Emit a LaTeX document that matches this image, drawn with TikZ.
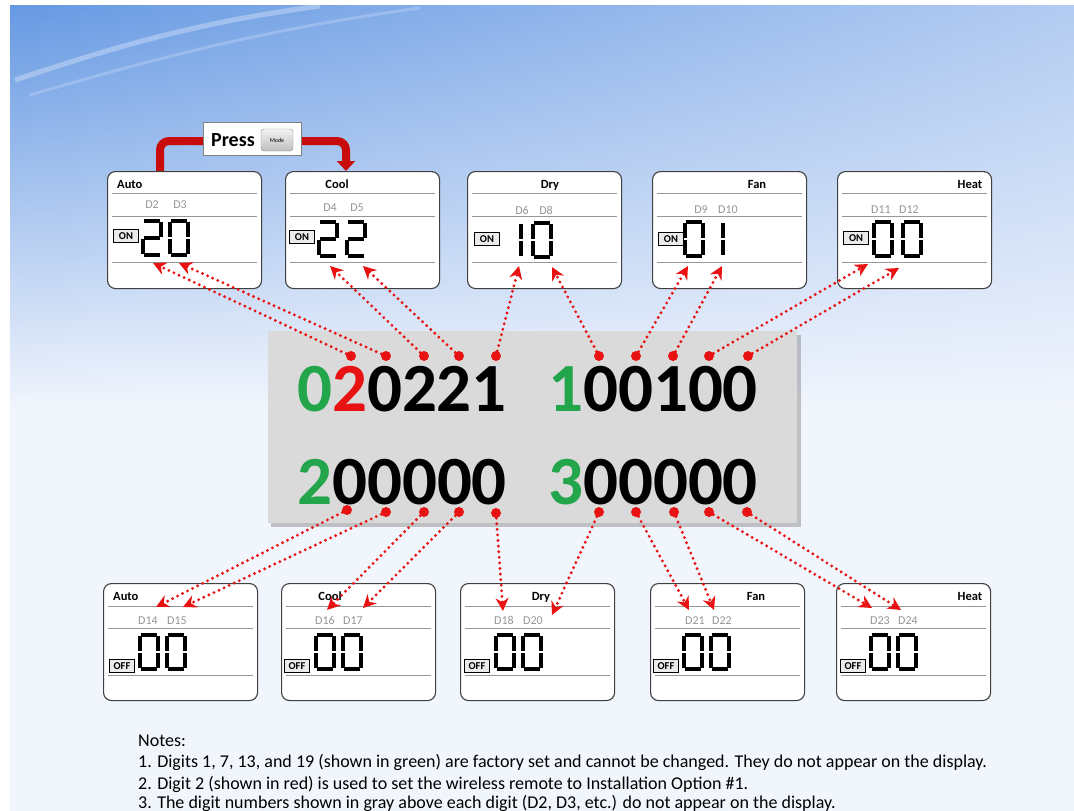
\documentclass[tikz,border=0pt]{standalone}
\usepackage{fontspec}
\setmainfont{Carlito}
\usetikzlibrary{arrows.meta}
\definecolor{dred}{RGB}{232,18,18}
\definecolor{dgreen}{RGB}{34,165,75}
\definecolor{arrowred}{RGB}{200,12,12}
\definecolor{panelline}{RGB}{150,150,150}
\definecolor{dlabel}{RGB}{150,150,150}
\definecolor{boxgray}{RGB}{218,218,218}
\pgfdeclarefunctionalshading{bgfun}{\pgfpoint{-50bp}{-50bp}}{\pgfpoint{50bp}{50bp}}{}{
  exch 50 div 0.5 add
  dup 0 lt {pop 0} if dup 1 gt {pop 1} if
  1 exch sub 0.55 mul 0.45 add
  exch 50 div 0.5 add
  0.5 sub 0.5 div dup 0 lt {pop 0} if dup 1 gt {pop 1} if
  mul
  dup 0.545 mul 0.945 exch sub
  exch dup 0.36 mul 0.96 exch sub
  exch 0.10 mul 0.99 exch sub
}
\newcommand\lcdseg[1]{\ifcase#1\relax\or
 \draw[lcd] (3.2,1.8)--(18.8,1.8);\or
 \draw[lcd] (20.2,3.4)--(20.2,17.6);\or
 \draw[lcd] (20.2,20.4)--(20.2,34.6);\or
 \draw[lcd] (3.2,36.2)--(18.8,36.2);\or
 \draw[lcd] (1.8,20.4)--(1.8,34.6);\or
 \draw[lcd] (1.8,3.4)--(1.8,17.6);\or
 \draw[lcd] (3.2,19)--(18.8,19);\fi}
\newcommand\lcddigit[3]{\begin{scope}[shift={(#1,#2)}]\foreach \s in {#3}{\lcdseg{\s}}\end{scope}}
\begin{document}
\begin{tikzpicture}[x=1pt,y=-1pt,
  panel/.style={draw=black!75, line width=1.1pt, fill=white, rounded corners=8pt, minimum width=154pt, minimum height=117pt, anchor=north west, inner sep=0pt},
  pline/.style={draw=panelline, line width=0.9pt},
  ttl/.style={font=\bfseries\fontsize{12.5}{13}\selectfont, inner sep=0pt, anchor=base},
  dlab/.style={text=dlabel, font=\fontsize{12}{13}\selectfont, inner sep=0pt, anchor=base},
  onbox/.style={draw=black, line width=0.8pt, fill=black!8, font=\bfseries\fontsize{10.5}{11}\selectfont, inner sep=0pt, minimum width=25pt, minimum height=13pt},
  lcd/.style={line width=3.6pt, line cap=butt, draw=black},
  rdot/.style={circle, fill=dred, minimum size=10pt, inner sep=0pt},
  dotarrow/.style={draw=dred, line width=3.2pt, dash pattern=on 0pt off 5.6pt, line cap=round, -{Stealth[length=13pt,width=13pt]}},
  big/.style={font=\bfseries\fontsize{69}{69}\selectfont, inner sep=0pt},
  note/.style={font=\fontsize{18}{20}\selectfont, anchor=base west, inner sep=0pt}
]
\useasboundingbox (0,0) rectangle (1074,811);
\fill[white] (0,0) rectangle (1074,811);
\shade[shading=bgfun] (10,5) rectangle (1074,811);
\draw[white, opacity=0.3, line width=5pt] (15,80) .. controls (120,45) and (200,22) .. (320,6);
\draw[white, opacity=0.2, line width=3pt] (30,95) .. controls (150,60) and (260,30) .. (420,8);

% press mode arrow
\coordinate (ps) at (160,172);
\coordinate (pm) at (346,141);
\coordinate (pe) at (346,171);
\draw[arrowred, line width=8pt, rounded corners=9pt, -{Triangle[length=10pt,width=18pt]}] (ps) |- (pm) -- (pe);
\node[draw=black!50, fill=white, line width=0.8pt, minimum width=98pt, minimum height=33pt, inner sep=0pt] (pbox) at (252,139) {};
\node[font=\bfseries\fontsize{20}{20}\selectfont, inner sep=0pt] (press) at (233,140) {Press};
\node[rounded corners=3pt, draw=black!45, top color=black!5, bottom color=black!25, minimum width=32pt, minimum height=22pt, inner sep=0pt, font=\fontsize{6}{6}\selectfont] (mode) at (277,140) {Mode};

% ---------- top panels ----------
\foreach \nm/\xx in {pA/107, pC/285, pD/467, pF/652, pH/837}{
  \node[panel] (\nm) at (\xx,171) {};
  \draw[pline] ([xshift=5pt,yshift=-22pt]\nm.north west) -- ([xshift=-5pt,yshift=-22pt]\nm.north east);
  \draw[pline] ([xshift=5pt,yshift=-45pt]\nm.north west) -- ([xshift=-5pt,yshift=-45pt]\nm.north east);
  \draw[pline] ([xshift=5pt,yshift=-91pt]\nm.north west) -- ([xshift=-5pt,yshift=-91pt]\nm.north east);
}
\node[ttl, anchor=base west] (tA) at (117,188) {Auto};
\node[ttl] (tC) at (337,188) {Cool};
\node[ttl] (tD) at (550,188) {Dry};
\node[ttl] (tF) at (757,188) {Fan};
\node[ttl] (tH) at (970,188) {Heat};
\node[dlab] (d2) at (152,208) {D2};
\node[dlab] (d3) at (180,208) {D3};
\node[dlab] (d4) at (330,211) {D4};
\node[dlab] (d5) at (357,211) {D5};
\node[dlab] (d6) at (522,214) {D6};
\node[dlab] (d8) at (546,214) {D8};
\node[dlab] (d9) at (701,213) {D9};
\node[dlab] (d10) at (728,213) {D10};
\node[dlab] (d11) at (881,213) {D11};
\node[dlab] (d12) at (909,213) {D12};
\node[onbox] (onA) at (126,236) {ON};
\node[onbox] (onC) at (302,237) {ON};
\node[onbox] (onD) at (487,239) {ON};
\node[onbox] (onF) at (671,239) {ON};
\node[onbox] (onH) at (856,238) {ON};
\lcddigit{141}{219}{1,2,7,5,4}
\lcddigit{168}{219}{1,2,3,4,5,6}
\lcddigit{317}{220}{1,2,7,5,4}
\lcddigit{345}{220}{1,2,7,5,4}
\lcddigit{501}{221}{2,3}
\lcddigit{531}{221}{1,2,3,4,5,6}
\lcddigit{683}{220}{1,2,3,4,5,6}
\lcddigit{703}{220}{2,3}
\lcddigit{872}{220}{1,2,3,4,5,6}
\lcddigit{901}{220}{1,2,3,4,5,6}

% ---------- bottom panels ----------
\foreach \nm/\xx in {qA/103, qC/281, qD/460, qF/650, qH/836}{
  \node[panel] (\nm) at (\xx,583) {};
  \draw[pline] ([xshift=5pt,yshift=-23pt]\nm.north west) -- ([xshift=-5pt,yshift=-23pt]\nm.north east);
  \draw[pline] ([xshift=5pt,yshift=-45pt]\nm.north west) -- ([xshift=-5pt,yshift=-45pt]\nm.north east);
  \draw[pline] ([xshift=5pt,yshift=-92pt]\nm.north west) -- ([xshift=-5pt,yshift=-92pt]\nm.north east);
}
\node[ttl, anchor=base west] (uA) at (113,600) {Auto};
\node[ttl] (uC) at (330,600) {Cool};
\node[ttl] (uD) at (541,600) {Dry};
\node[ttl] (uF) at (756,600) {Fan};
\node[ttl] (uH) at (970,600) {Heat};
\node[dlab] (d14) at (148,624) {D14};
\node[dlab] (d15) at (177,624) {D15};
\node[dlab] (d16) at (325,624) {D16};
\node[dlab] (d17) at (353,624) {D17};
\node[dlab] (d18) at (504,624) {D18};
\node[dlab] (d20) at (533,624) {D20};
\node[dlab] (d21) at (695,624) {D21};
\node[dlab] (d22) at (722,624) {D22};
\node[dlab] (d23) at (880,624) {D23};
\node[dlab] (d24) at (908,624) {D24};
\node[onbox] (offA) at (122,666) {OFF};
\node[onbox] (offC) at (297,666) {OFF};
\node[onbox] (offD) at (477,666) {OFF};
\node[onbox] (offF) at (666,666) {OFF};
\node[onbox] (offH) at (853,666) {OFF};
\foreach \xx in {138,165,314,341,494,521,682,709,869,896}{
  \lcddigit{\xx}{633}{1,2,3,4,5,6}
}

% ---------- code box ----------
\fill[black!45, opacity=0.5] (271,335) rectangle (801,527);
\node[fill=boxgray, minimum width=529pt, minimum height=192pt, inner sep=0pt, anchor=north west] (gbox) at (268,331) {};
\node[big] (r1a) at (402,389) {\textcolor{dgreen}{0}\textcolor{dred}{2}0221};
\node[big] (r1b) at (653,389) {\textcolor{dgreen}{1}00100};
\node[big] (r2a) at (402,482) {\textcolor{dgreen}{2}00000};
\node[big] (r2b) at (653,482) {\textcolor{dgreen}{3}00000};

% ---------- dots ----------
\foreach \i/\dx/\dy in {1/351/356, 2/386/356, 3/424/356, 4/459/356, 5/496/356, 6/599/356, 7/636/356, 8/673/356, 9/709/356, 10/748/356}{
  \node[rdot] (td\i) at (\dx,\dy) {};
}
\foreach \i/\dx/\dy in {1/347/510, 2/386/512, 3/424/512, 4/459/512, 5/496/513, 6/599/512, 7/636/512, 8/674/512, 9/709/512, 10/747/512}{
  \node[rdot] (bd\i) at (\dx,\dy) {};
}
% ---------- arrows ----------
\foreach \i/\ax/\ay in {1/153/263, 2/179/263, 3/330/266, 4/363/266, 5/519/266, 6/552/267, 7/688/266, 8/722/266, 9/868/264, 10/899/268}{
  \coordinate (ta\i) at (\ax,\ay);
  \draw[dotarrow] (td\i) -- (ta\i);
}
\foreach \i/\ax/\ay in {1/156/607, 2/183/607, 3/327/610, 4/363/608, 5/503/611, 6/552/615, 7/689/610, 8/714/610, 9/872/608, 10/901/610}{
  \coordinate (ba\i) at (\ax,\ay);
  \draw[dotarrow] (bd\i) -- (ba\i);
}

% ---------- notes ----------
\node[note] (n0) at (138,746) {Notes:};
\node[note] (n1) at (138,767) {1. Digits 1, 7, 13, and 19 (shown in green) are factory set and cannot be changed. They do not appear on the display.};
\node[note] (n2) at (138,789) {2. Digit 2 (shown in red) is used to set the wireless remote to Installation Option \#1.};
\node[note] (n3) at (138,808) {3. The digit numbers shown in gray above each digit (D2, D3, etc.) do not appear on the display.};
\end{tikzpicture}
\end{document}
